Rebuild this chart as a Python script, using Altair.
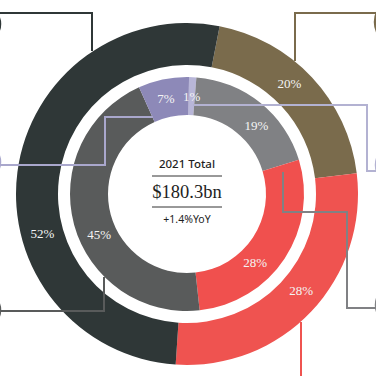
import math
import altair as alt
import pandas as pd

# ---------------- data ----------------
outer_names = ["Segment A", "Segment B", "Segment C"]
outer_values = [20, 28, 52]

inner_names = ["Part 1", "Part 2", "Part 3", "Part 4", "Part 5"]
inner_values = [1, 19, 28, 45, 7]

center_title = "2021 Total"
center_total = "$180.3bn"
center_change = "+1.4%YoY"

# ---------------- styles / layout ----------------
W = H = 376
CX, CY = 187, 194

outer_colors = ["#7a6b4c", "#ef5350", "#2f3737"]
inner_colors = ["#b8b6d8", "#808184", "#f0504e", "#595b5b", "#8d89b8"]

outer_start_deg = 11
inner_start_deg = 1
# label nudges along the ring (degrees)
outer_nudge_deg = [-4, -3, -23]
inner_nudge_deg = [0, 7, 12, -10, -1]

SERIF = "Liberation Serif"
SANS = "Noto Sans"


def ring(names, values, colors, nudges, start_deg, r_in, r_out, r_lab):
    df = pd.DataFrame({
        "cat": names,
        "value": values,
        "idx": list(range(len(names))),
        "nudge": [n / 3.6 for n in nudges],
        "lab": [f"{v}%" for v in values],
    })
    s = math.radians(start_deg)
    tscale = alt.Scale(domain=[0, 100], range=[s, s + 2 * math.pi])
    arcs = alt.Chart(df).mark_arc(
        innerRadius=r_in, outerRadius=r_out, x=CX, y=CY
    ).encode(
        theta=alt.Theta("value:Q", stack=True, scale=tscale),
        order=alt.Order("idx:Q"),
        color=alt.Color("cat:N", scale=alt.Scale(domain=names, range=colors), legend=None),
    )
    labels = alt.Chart(df).transform_window(
        cum="sum(value)", sort=[alt.SortField("idx")], frame=[None, 0]
    ).transform_calculate(
        mid="datum.cum - datum.value / 2 + datum.nudge"
    ).mark_text(
        radius=r_lab, x=CX, y=CY, font=SERIF, fontSize=13, color="#f4f4f4",
        align="center", baseline="middle"
    ).encode(
        theta=alt.Theta("mid:Q", stack=False, scale=tscale),
        text="lab:N",
    )
    return arcs, labels


outer_arcs, outer_labels = ring(outer_names, outer_values, outer_colors,
                                outer_nudge_deg, outer_start_deg, 129, 171, 150)
inner_arcs, inner_labels = ring(inner_names, inner_values, inner_colors,
                                inner_nudge_deg, inner_start_deg, 79, 117, 97)

# leader lines (layout geometry, in pixels)
leaders = {
    "l_outer_dark": ("#2f3737", [(0, 13), (92, 13), (92, 51)]),
    "l_outer_brown": ("#7a6b4c", [(376, 13), (295, 13), (295, 61)]),
    "l_inner_1": ("#b3b2d2", [(193, 105), (367, 105), (367, 171), (376, 171)]),
    "l_inner_7": ("#a9a7cc", [(153, 117), (105, 117), (105, 165), (0, 165)]),
    "l_inner_19": ("#808184", [(283, 172), (283, 212), (347, 212), (347, 308), (376, 308)]),
    "l_inner_45": ("#595b5b", [(104, 277), (104, 311), (0, 311)]),
    "l_outer_red": ("#ef5350", [(301, 322), (301, 376)]),
}
rows = []
for name, (col, pts) in leaders.items():
    for i, (px, py) in enumerate(pts):
        rows.append({"path": name, "seq": i, "px": px, "py": py})
lead_df = pd.DataFrame(rows)
lead_names = list(leaders.keys())
lead_cols = [leaders[k][0] for k in lead_names]

xs = alt.Scale(domain=[0, W], nice=False, zero=False)
ys = alt.Scale(domain=[0, H], nice=False, zero=False, reverse=True)

lines = alt.Chart(lead_df).mark_line(strokeWidth=2).encode(
    x=alt.X("px:Q", scale=xs, axis=None),
    y=alt.Y("py:Q", scale=ys, axis=None),
    detail="path:N",
    order="seq:Q",
    color=alt.Color("path:N", scale=alt.Scale(domain=lead_names, range=lead_cols), legend=None),
)

icons_df = pd.DataFrame({
    "icon": ["i1", "i2", "i3", "i4", "i5", "i6"],
    "px": [-17, 398, 395, -17, 395, -17],
    "py": [24, 22, 165, 162, 305, 310],
    "d": [34, 46, 38, 34, 38, 34],
})
icon_cols = ["#2f3737", "#7a6b4c", "#b3b2d2", "#a9a7cc", "#808184", "#595b5b"]
icons = alt.Chart(icons_df).transform_calculate(sz="datum.d * datum.d").mark_point(
    shape="circle", filled=False, strokeWidth=2.5, opacity=1
).encode(
    x=alt.X("px:Q", scale=xs, axis=None),
    y=alt.Y("py:Q", scale=ys, axis=None),
    size=alt.Size("sz:Q", scale=None, legend=None),
    color=alt.Color("icon:N", scale=alt.Scale(domain=list(icons_df["icon"]), range=icon_cols), legend=None),
)

one = pd.DataFrame({"t": [center_title]})
t1 = alt.Chart(pd.DataFrame({"t": [center_title]})).mark_text(
    x=CX, y=165, font=SANS, fontSize=11.5, fontWeight=500, color="#1e1e1e", align="center", baseline="middle"
).encode(text="t:N")
t2 = alt.Chart(pd.DataFrame({"t": [center_total]})).mark_text(
    x=CX, y=192, font=SERIF, fontSize=18.5, color="#1e1e1e", align="center", baseline="middle"
).encode(text="t:N")
t3 = alt.Chart(pd.DataFrame({"t": [center_change]})).mark_text(
    x=CX, y=220, font=SANS, fontSize=10.5, color="#1e1e1e", align="center", baseline="middle"
).encode(text="t:N")
rule1 = alt.Chart(one).mark_rule(color="#333333", strokeWidth=1).encode(
    x=alt.value(152), x2=alt.value(222), y=alt.value(176))
rule2 = alt.Chart(one).mark_rule(color="#333333", strokeWidth=1).encode(
    x=alt.value(152), x2=alt.value(222), y=alt.value(207))

chart = alt.layer(
    outer_arcs, inner_arcs, lines, icons, outer_labels, inner_labels,
    t1, t2, t3, rule1, rule2
).resolve_scale(
    theta="independent", color="independent", size="independent"
).properties(
    width=W, height=H, padding=0, autosize=alt.AutoSizeParams(type="none")
).configure_view(stroke=None)

chart.save("out.html", embed_options={"renderer": "svg", "actions": False})
